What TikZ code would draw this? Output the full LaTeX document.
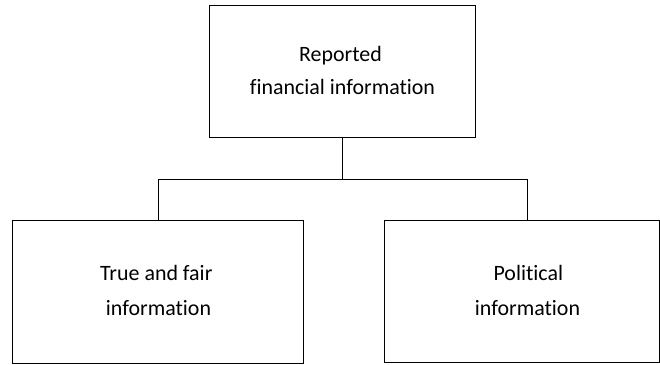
\documentclass[tikz,border=0pt]{standalone}
\usepackage{fontspec}
\setmainfont[Ligatures=NoCommon]{Carlito}
\begin{document}
\begin{tikzpicture}[x=1bp,y=-1bp,
  box/.style={draw, line width=1.2bp, rectangle, inner sep=0pt, anchor=north west},
  txt/.style={font=\fontsize{22}{26}\selectfont, anchor=base, inner sep=0pt},
  link/.style={line width=1.2bp}]
\useasboundingbox (0,0) rectangle (660,364);

% boxes
\node[box, minimum width=266bp, minimum height=132bp] (top) at (209,5) {};
\node[box, minimum width=291bp, minimum height=143bp] (left) at (12,219.5) {};
\node[box, minimum width=275.5bp, minimum height=142.5bp] (right) at (383.5,219.5) {};

% labels
\node[txt] (t1) at (340.5,61) {Reported};
\node[txt] (t2) at (342.5,94.3) {financial information};
\node[txt] (l1) at (156.3,280.7) {True and fair};
\node[txt] (l2) at (158.5,315) {information};
\node[txt] (r1) at (528.3,280.7) {Political};
\node[txt] (r2) at (527.5,315.3) {information};

% connectors
\draw[link] (top.south) -- ++(0,41.3) coordinate (junction);
\coordinate (rdrop) at ([xshift=144bp]right.north west);
\draw[link] (left.north) |- (junction) -| (rdrop);
\end{tikzpicture}
\end{document}
